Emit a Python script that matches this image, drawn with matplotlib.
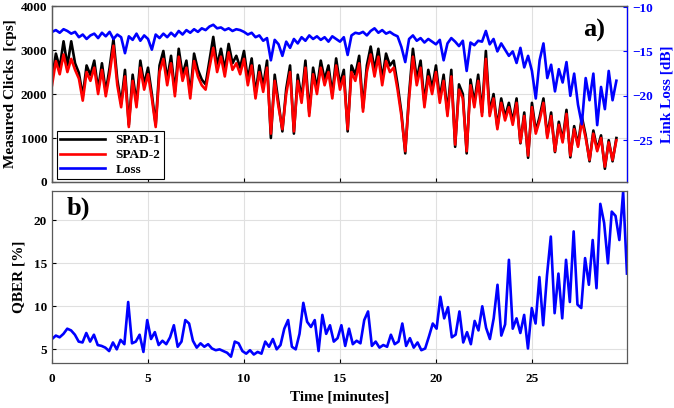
import numpy as np
import matplotlib
matplotlib.use("Agg")
import matplotlib.pyplot as plt

plt.rcParams['font.family'] = ['Liberation Serif', 'DejaVu Serif']
plt.rcParams['font.weight'] = 'bold'

# ---------------- data ----------------
spad2 = [2200, 2750, 2450, 2900, 2500, 2800, 2550, 2350, 1850, 2500,
         2300, 2600, 2000, 2550, 1950, 2450, 3100, 2200, 1700, 2400,
         1250, 2300, 1700, 2600, 2100, 2450, 1900, 1250, 2500, 2800,
         2200, 2700, 1950, 2850, 2300, 2600, 1900, 2750, 2400, 2200,
         2100, 2600, 3050, 2500, 2850, 2400, 2950, 2550, 2700, 2450,
         2800, 2200, 2650, 1900, 2500, 2050, 2600, 1100, 2300, 1700,
         1200, 2000, 2500, 1150, 2300, 1800, 2600, 1500, 2450, 2000,
         2600, 2200, 2500, 1900, 2650, 2100, 2400, 1200, 2500, 2300,
         2700, 1600, 2500, 2900, 2400, 2850, 2200, 2750, 2500, 2600,
         2100, 1500, 700, 1900, 2850, 2200, 2600, 1700, 2400, 2000,
         2500, 1800, 2300, 1500, 2400, 850, 2100, 1900, 700, 2200,
         1700, 2300, 1500, 2800, 1500, 1900, 1200, 1800, 1400, 1700,
         1300, 1800, 900, 1500, 600, 1700, 1100, 1400, 1800, 1000,
         1500, 700, 1300, 900, 1550, 600, 1200, 800, 1400, 1000,
         500, 1100, 700, 1000, 350, 900, 500, 950]

spad1 = [2330, 2920, 2600, 3200, 2650, 3200, 2700, 2480, 1950, 2650,
         2430, 2760, 2100, 2700, 2050, 2600, 3250, 2330, 1780, 2550,
         1300, 2440, 1790, 2760, 2220, 2600, 2000, 1300, 2650, 2980,
         2330, 2870, 2050, 3030, 2440, 2760, 2000, 2920, 2550, 2330,
         2220, 2760, 3300, 2650, 3030, 2550, 3140, 2700, 2870, 2600,
         2980, 2330, 2810, 2000, 2650, 2170, 2760, 1000, 2440, 1790,
         1150, 2120, 2650, 1100, 2440, 1900, 2760, 1580, 2600, 2120,
         2760, 2330, 2650, 2000, 2810, 2220, 2550, 1150, 2650, 2440,
         2870, 1680, 2650, 3080, 2550, 3030, 2330, 2920, 2650, 2760,
         2220, 1580, 650, 2000, 3030, 2330, 2760, 1800, 2550, 2120,
         2650, 1900, 2440, 1580, 2550, 800, 2220, 2000, 650, 2330,
         1800, 2440, 1580, 2980, 1580, 2000, 1250, 1900, 1480, 1800,
         1370, 1900, 880, 1580, 550, 1800, 1160, 1480, 1900, 1050,
         1580, 680, 1370, 950, 1640, 560, 1270, 840, 1480, 1060,
         470, 1170, 740, 1060, 300, 950, 470, 1000]

loss = [-12.8, -12.6, -12.9, -12.5, -12.7, -13.0, -12.8, -13.4, -13.1, -13.6,
        -13.2, -13.0, -13.5, -12.9, -13.3, -12.8, -13.6, -13.1, -13.4, -15.2,
        -13.3, -13.7, -13.0, -13.8, -13.2, -13.6, -14.8, -13.1, -13.5, -13.0,
        -13.4, -12.9, -13.3, -12.7, -13.1, -12.6, -12.9, -12.5, -12.8, -12.4,
        -12.6, -12.2, -12.0, -12.4, -12.3, -12.6, -12.4, -12.7, -12.5, -12.6,
        -12.8, -13.1, -12.9, -13.4, -13.2, -13.8, -13.5, -16.0, -13.7, -14.2,
        -15.5, -13.9, -14.6, -13.6, -14.1, -13.4, -13.8, -13.2, -13.6, -13.3,
        -13.7, -13.4, -13.9, -13.3, -13.6, -13.9, -13.4, -15.4, -13.2, -12.9,
        -13.0, -12.8, -13.2, -12.7, -12.4, -12.9, -12.6, -13.0, -12.8, -13.1,
        -13.3, -14.5, -16.2, -13.6, -13.2, -13.8, -13.5, -14.0, -13.6, -13.9,
        -14.2, -13.7, -16.0, -14.1, -13.5, -13.9, -14.4, -13.8, -17.2, -14.0,
        -14.3, -13.8, -13.9, -12.7, -14.2, -13.6, -15.0, -14.1, -14.8, -15.5,
        -15.0, -16.3, -14.6, -16.8, -15.5, -17.2, -20.3, -16.0, -14.1, -18.0,
        -16.5, -19.5, -17.0, -18.5, -16.2, -20.0, -17.5, -21.0, -23.2, -18.0,
        -20.5, -17.5, -23.3, -19.0, -21.5, -17.2, -20.5, -18.3]

qber = [6.2, 6.6, 6.4, 6.8, 7.4, 7.2, 6.7, 5.9, 5.8, 6.9,
        5.9, 6.7, 5.5, 5.4, 5.2, 4.8, 5.8, 5.0, 6.1, 5.6,
        10.5, 5.7, 5.9, 6.7, 4.7, 8.4, 6.2, 7.0, 5.5, 6.0,
        5.6, 6.4, 7.8, 5.3, 5.9, 8.4, 8.0, 6.0, 5.2, 5.7,
        5.3, 5.6, 5.1, 4.9, 5.0, 4.8, 4.6, 4.15, 5.9, 5.7,
        4.8, 4.5, 4.9, 4.4, 4.7, 4.5, 5.9, 5.3, 6.2, 5.0,
        5.5, 7.4, 8.4, 5.3, 5.0, 6.8, 10.4, 8.2, 7.6, 8.4,
        4.8, 9.0, 6.8, 7.8, 5.9, 6.3, 7.8, 5.4, 7.4, 5.6,
        6.0, 5.7, 8.4, 9.4, 5.4, 5.9, 5.2, 5.5, 5.3, 6.7,
        5.6, 5.9, 8.0, 5.4, 6.3, 5.2, 5.8, 4.9, 5.1, 6.5,
        8.0, 7.4, 11.1, 8.6, 9.9, 6.4, 6.7, 9.4, 5.8, 7.0,
        5.6, 8.3, 7.2, 10.0, 7.5, 6.2, 8.6, 12.5, 6.6, 7.9,
        15.4, 7.4, 8.6, 6.9, 9.0, 5.1, 9.8, 8.0, 13.4, 7.8,
        13.6, 18.1, 9.2, 13.8, 8.6, 15.4, 10.5, 18.7, 10.2, 9.8,
        15.6, 12.5, 17.7, 12.1, 21.9, 19.7, 15.0, 21.0, 20.5, 17.7,
        23.3, 13.8]

t_top = np.linspace(0, 29.4, len(spad2))
t_bot = np.linspace(0, 29.95, len(qber))

xticks = [0, 5, 10, 15, 20, 25]
clicks_ticks = [0, 1000, 2000, 3000, 4000]
loss_ticks = [-25, -20, -15, -10]
qber_ticks = [5, 10, 15, 20]

# ---------------- figure ----------------
fig = plt.figure(figsize=(6.74, 4.08), dpi=100)
ax1 = fig.add_axes([0.0772, 0.554, 0.853, 0.431])
ax3 = fig.add_axes([0.0772, 0.110, 0.853, 0.422])

FS = 9.5
LFS = 11.0
spine_c = '0.35'
grid_c = '0.88'

def style(ax):
    ax.grid(True, color=grid_c, linewidth=0.8)
    ax.set_axisbelow(True)
    ax.tick_params(direction='in', length=3, width=0.8, labelsize=FS, colors='k')
    ax.tick_params(axis='x', pad=7)
    ax.tick_params(axis='y', pad=3.5)
    for s in ax.spines.values():
        s.set_color(spine_c)
        s.set_linewidth(0.9)
    for lab in ax.get_xticklabels() + ax.get_yticklabels():
        lab.set_fontweight('bold')

lw = 1.9
l1, = ax1.plot(t_top, spad1, color='k', lw=lw, label='SPAD-1')
l2, = ax1.plot(t_top, spad2, color='r', lw=lw, label='SPAD-2')
ax1.set_xlim(0, 29.95)
ax1.set_ylim(0, 4000)
ax1.set_xticks(xticks)
ax1.set_xticklabels([])
ax1.set_yticks(clicks_ticks)
ax1.set_ylabel('Measured Clicks  [cps]', fontsize=LFS, fontweight='bold', labelpad=3)
style(ax1)

ax2 = ax1.twinx()
l3, = ax2.plot(t_top, loss, color='b', lw=lw, label='Loss')
ax2.set_ylim(-29.7, -9.9)
ax2.set_yticks(loss_ticks)
ax2.tick_params(direction='in', length=3, width=0.8, labelsize=FS, colors='b', pad=4)
for s in ax2.spines.values():
    s.set_color(spine_c)
    s.set_linewidth(0.9)
ax2.spines['right'].set_color('b')
for lab in ax2.get_yticklabels():
    lab.set_fontweight('bold')
ax2.set_ylabel('Link Loss [dB]', color='b', fontsize=LFS, fontweight='bold', labelpad=5)

leg = ax2.legend(handles=[l1, l2, l3], loc='lower left', bbox_to_anchor=(0.008, 0.015),
                 borderaxespad=0, handlelength=3.4, framealpha=1,
                 fancybox=False, edgecolor='k', borderpad=0.25, labelspacing=0.2,
                 handletextpad=0.8, prop={'weight': 'bold', 'size': 9.5})
leg.get_frame().set_linewidth(0.8)

ax2.text(0.962, 0.93, 'a)', transform=ax2.transAxes, fontsize=19, fontweight='bold',
         ha='right', va='top')

ax3.plot(t_bot, qber, color='b', lw=lw)
ax3.set_xlim(0, 29.95)
ax3.set_ylim(3.4, 23.4)
ax3.set_xticks(xticks)
ax3.set_yticks(qber_ticks)
ax3.set_xlabel('Time [minutes]', fontsize=LFS, fontweight='bold', labelpad=4)
ax3.set_ylabel('QBER [%]', fontsize=LFS, fontweight='bold', labelpad=6)
style(ax3)
ax3.text(0.026, 0.965, 'b)', transform=ax3.transAxes, fontsize=19, fontweight='bold',
         ha='left', va='top')

fig.savefig('out.png', dpi=100)
